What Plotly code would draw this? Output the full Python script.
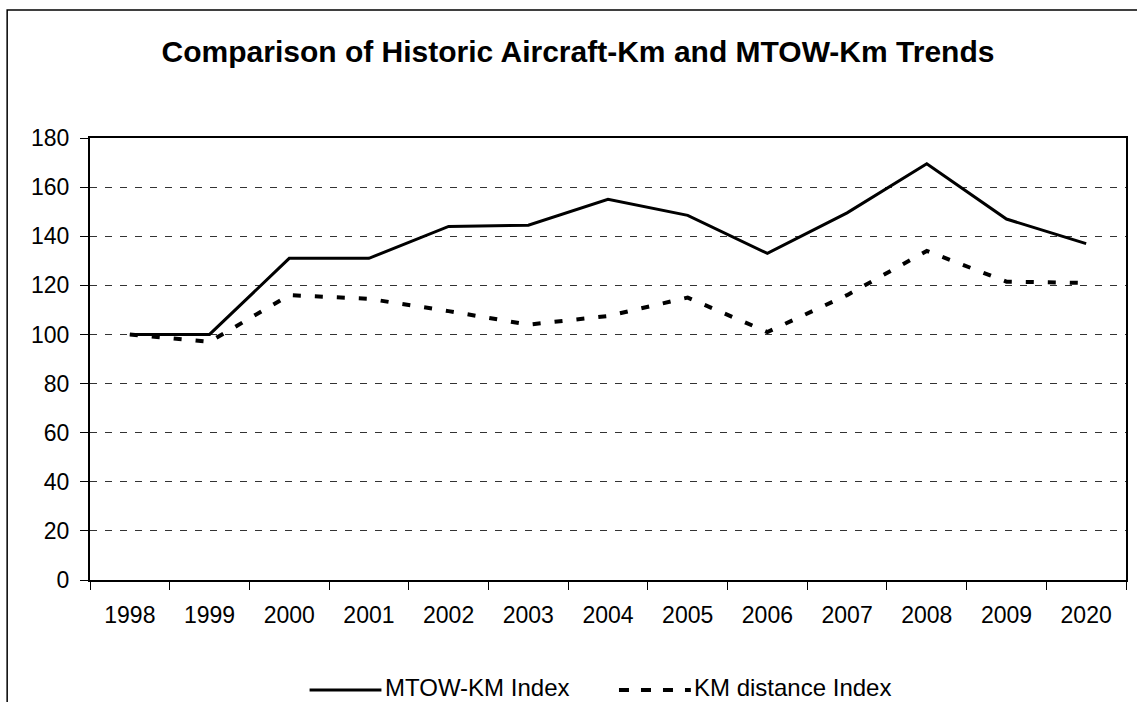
import plotly.graph_objects as go

# values
years = ['1998', '1999', '2000', '2001', '2002', '2003', '2004',
         '2005', '2006', '2007', '2008', '2009', '2020']
mtow_km_index = [100, 100, 131, 131, 144, 144.5, 155, 148.5, 133, 149.5, 169.5, 147, 137]
km_distance_index = [100, 97, 116, 114.5, 109.5, 104, 107.5, 115, 101, 116, 134, 121.5, 121]

title_text = 'Comparison of Historic Aircraft-Km and MTOW-Km Trends'
name_mtow = 'MTOW-KM Index'
name_km = 'KM distance Index'

FONT = 'Liberation Sans, Arial, sans-serif'
W, H = 1137, 702
L, R, T, B = 90, 9, 138, 122   # plot area margins in px
PW, PH = W - L - R, H - T - B


def px_x(x):
    return (x - L) / PW


def px_y(y):
    return (H - B - y) / PH


fig = go.Figure()
fig.add_trace(go.Scatter(
    x=years, y=mtow_km_index, name=name_mtow, mode='lines',
    line=dict(color='black', width=3), showlegend=False,
))
fig.add_trace(go.Scatter(
    x=years, y=km_distance_index, name=name_km, mode='lines',
    line=dict(color='black', width=4, dash='8px,14px'), showlegend=False,
))

shapes = [
    # outer chart frame (runs off the right/bottom edge like the source)
    dict(type='rect', xref='paper', yref='paper',
         x0=px_x(7), x1=px_x(1160), y0=px_y(730), y1=px_y(10),
         line=dict(color='black', width=1.5), fillcolor='rgba(0,0,0,0)', layer='below'),
    # legend samples
    dict(type='line', xref='paper', yref='paper',
         x0=px_x(310), x1=px_x(382), y0=px_y(690), y1=px_y(690),
         line=dict(color='black', width=3)),
    dict(type='line', xref='paper', yref='paper',
         x0=px_x(620), x1=px_x(692), y0=px_y(690), y1=px_y(690),
         line=dict(color='black', width=4, dash='10px,12px')),
]

annotations = [
    dict(text=name_mtow, xref='paper', yref='paper', x=px_x(384), y=px_y(687),
         xanchor='left', yanchor='middle', showarrow=False,
         font=dict(family=FONT, size=24, color='black')),
    dict(text=name_km, xref='paper', yref='paper', x=px_x(693), y=px_y(687),
         xanchor='left', yanchor='middle', showarrow=False,
         font=dict(family=FONT, size=24, color='black')),
]

fig.update_layout(
    width=W, height=H,
    margin=dict(l=L, r=R, t=T, b=B, pad=0),
    paper_bgcolor='white', plot_bgcolor='white',
    font=dict(family=FONT, size=23, color='black'),
    title=dict(text=f'<b>{title_text}</b>', x=578 / W, xanchor='center',
               y=1 - 51 / H, yanchor='middle',
               font=dict(family=FONT, size=30, color='black')),
    shapes=shapes,
    annotations=annotations,
    showlegend=False,
)
fig.update_xaxes(
    type='category', range=[-0.5, len(years) - 0.5],
    showgrid=False, zeroline=False,
    showline=True, linecolor='black', linewidth=2, mirror=True,
    ticks='outside', tickson='boundaries', ticklen=8, tickcolor='black', tickwidth=1,
    ticklabelstandoff=13,
)
fig.update_yaxes(
    range=[0, 180], dtick=20,
    showgrid=True, gridcolor='#333333', gridwidth=1, griddash='7px,8px',
    zeroline=False,
    showline=True, linecolor='black', linewidth=2, mirror=True,
    ticks='outside', ticklen=8, tickcolor='black', tickwidth=1,
    ticklabelstandoff=6,
)

# page body has a default 8px margin; drop it so the figure sits at 0,0
fig.write_html('out.html', config={'displayModeBar': False},
               post_script="document.body.style.margin='0';")
